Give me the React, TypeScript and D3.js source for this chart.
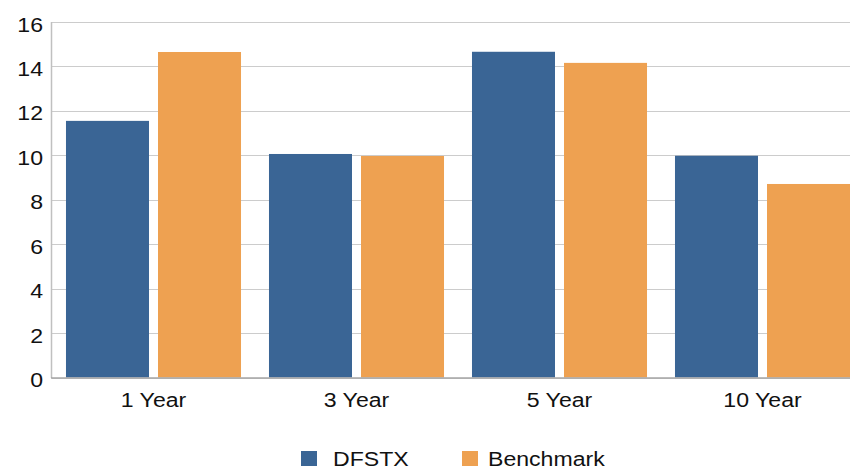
import React from "react";
import * as d3 from "d3";

const categories = ["1 Year", "3 Year", "5 Year", "10 Year"];
const seriesNames = ["DFSTX", "Benchmark"];
const dfstx = [11.55, 10.06, 14.66, 9.98];
const benchmark = [14.65, 9.97, 14.16, 8.71];
const yTicks = [0, 2, 4, 6, 8, 10, 12, 14, 16];
const colors = ["#3a6595", "#eea151"];

const W = 850;
const H = 468;
const FONT = "'Liberation Sans', Arial, Helvetica, sans-serif";
const SX = 1.1;

export default function App() {
  const x0 = d3.scaleBand<string>().domain(categories).range([52, 864]).paddingInner(0).paddingOuter(0);
  const x1 = d3
    .scaleBand<string>()
    .domain(seriesNames)
    .range([0, x0.bandwidth()])
    .paddingInner(9 / 92)
    .paddingOuter(0.152);
  const y = d3.scaleLinear().domain([0, 16]).range([377.5, 22]);
  const values = [dfstx, benchmark];

  const txt = (x: number, yy: number, s: string, anchor: string, key: string) => (
    <text
      key={key}
      transform={`translate(${x},${yy}) scale(${SX},1)`}
      textAnchor={anchor}
      fontFamily={FONT}
      fontSize={21}
      fill="#111111"
    >
      {s}
    </text>
  );

  return (
    <svg
      width={W}
      height={H}
      style={{ position: "absolute", left: 0, top: 0, background: "#fff" }}
    >
      <rect width={W} height={H} fill="#fff" />
      {yTicks.map((t) => (
        <line
          key={"g" + t}
          x1={52}
          x2={W}
          y1={Math.round(y(t)) + 0.5}
          y2={Math.round(y(t)) + 0.5}
          stroke="#cccccc"
          strokeWidth={1}
        />
      ))}
      {categories.map((c, i) => (
        <g key={c}>
          {seriesNames.map((s, j) => (
            <rect
              key={s}
              x={(x0(c) as number) + (x1(s) as number)}
              width={x1.bandwidth()}
              y={y(values[j][i])}
              height={y(0) - y(values[j][i])}
              fill={colors[j]}
            />
          ))}
        </g>
      ))}
      <line x1={51.5} x2={51.5} y1={22} y2={378} stroke="#c0c0c0" strokeWidth={1.5} />
      <line x1={51} x2={W} y1={378} y2={378} stroke="#a6a6a6" strokeWidth={1.5} />
      {yTicks.map((t) => txt(43, y(t) + 9.5, String(t), "end", "yl" + t))}
      {categories.map((c) => txt((x0(c) as number) + x0.bandwidth() / 2, 407, c, "middle", "xl" + c))}
      <rect x={301} y={451} width={16} height={15} fill={colors[0]} />
      {txt(333, 466, seriesNames[0], "start", "lg0")}
      <rect x={462} y={451} width={16} height={15} fill={colors[1]} />
      {txt(488, 466, seriesNames[1], "start", "lg1")}
    </svg>
  );
}
